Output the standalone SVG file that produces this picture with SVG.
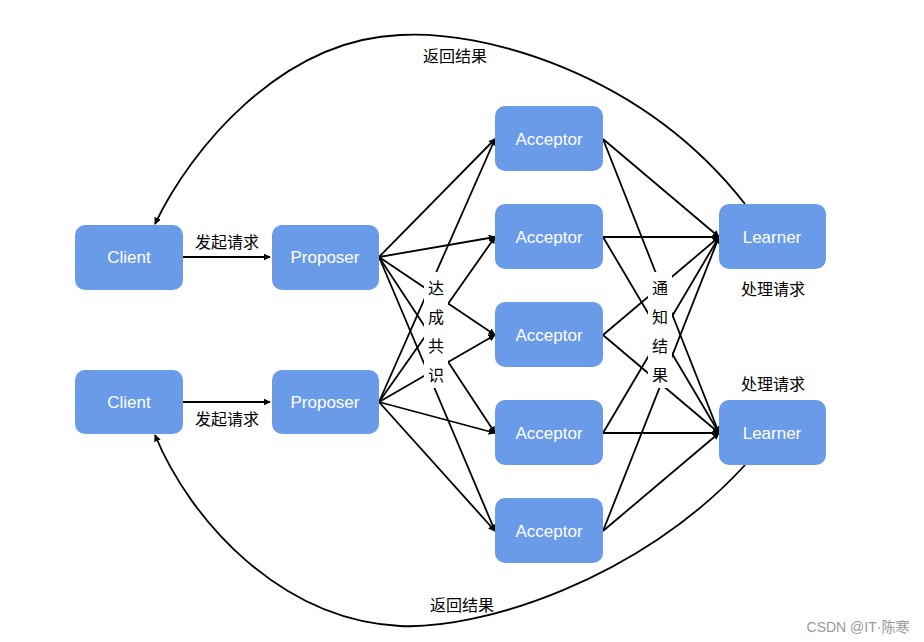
<svg xmlns="http://www.w3.org/2000/svg" width="924" height="642" viewBox="0 0 924 642">
<style>
.n{fill:#6a9be9}
.t{fill:#fff;font-family:"Liberation Sans","Noto Sans CJK SC",sans-serif;font-size:17px;text-anchor:middle;dominant-baseline:central}
.l{fill:#000;font-family:"Noto Sans CJK SC",sans-serif;font-size:16px;text-anchor:middle;dominant-baseline:central}
.c path{fill:none;stroke:#000;stroke-width:1.8;marker-end:url(#a)}
</style>
<defs><marker id="a" viewBox="0 0 10 10" refX="9" refY="5" markerWidth="7" markerHeight="7" orient="auto" markerUnits="userSpaceOnUse"><path d="M0,0L10,5L0,10z" fill="#000"/></marker></defs>
<rect width="924" height="642" fill="#fff"/>
<g class="c">
<path d="M183,257H270"/><path d="M183,402H270"/>
<path d="M379,257L495,139"/><path d="M379,257L495,237"/><path d="M379,257L495,335"/><path d="M379,257L495,433"/><path d="M379,257L495,531"/>
<path d="M379,402L495,139"/><path d="M379,402L495,237"/><path d="M379,402L495,335"/><path d="M379,402L495,433"/><path d="M379,402L495,531"/>
<path d="M603,139L719,237"/><path d="M603,237L719,237"/><path d="M603,335L719,237"/><path d="M603,433L719,237"/><path d="M603,531L719,237"/>
<path d="M603,139L719,433"/><path d="M603,237L719,433"/><path d="M603,335L719,433"/><path d="M603,433L719,433"/><path d="M603,531L719,433"/>
<path d="M745,204C640,70 480,30 400,35C280,40 190,150 155,224"/>
<path d="M745,465C640,580 480,630 400,626C280,620 190,520 155,435"/>
</g>
<g id="client1"><rect class="n" x="75" y="225" width="108" height="65" rx="10"/><text class="t" x="129" y="257">Client</text></g>
<g id="client2"><rect class="n" x="75" y="370" width="108" height="64" rx="10"/><text class="t" x="129" y="402">Client</text></g>
<g id="proposer1"><rect class="n" x="272" y="225" width="107" height="65" rx="10"/><text class="t" x="325" y="257">Proposer</text></g>
<g id="proposer2"><rect class="n" x="272" y="370" width="107" height="64" rx="10"/><text class="t" x="325" y="402">Proposer</text></g>
<g id="acceptor1"><rect class="n" x="495" y="106" width="108" height="65" rx="10"/><text class="t" x="549" y="139">Acceptor</text></g>
<g id="acceptor2"><rect class="n" x="495" y="204" width="108" height="65" rx="10"/><text class="t" x="549" y="237">Acceptor</text></g>
<g id="acceptor3"><rect class="n" x="495" y="302" width="108" height="65" rx="10"/><text class="t" x="549" y="335">Acceptor</text></g>
<g id="acceptor4"><rect class="n" x="495" y="400" width="108" height="65" rx="10"/><text class="t" x="549" y="433">Acceptor</text></g>
<g id="acceptor5"><rect class="n" x="495" y="498" width="108" height="65" rx="10"/><text class="t" x="549" y="531">Acceptor</text></g>
<g id="learner1"><rect class="n" x="719" y="204" width="107" height="65" rx="10"/><text class="t" x="772" y="237">Learner</text></g>
<g id="learner2"><rect class="n" x="719" y="400" width="107" height="65" rx="10"/><text class="t" x="772" y="433">Learner</text></g>
<g id="labels">
<text class="l" x="455" y="55">返回结果</text>
<text class="l" x="462" y="604">返回结果</text>
<text class="l" x="227" y="241" font-size="15">发起请求</text>
<text class="l" x="227" y="418" font-size="15">发起请求</text>
<text class="l" x="773" y="288">处理请求</text>
<text class="l" x="773" y="383">处理请求</text>
<rect x="424" y="272" width="24" height="116" fill="#fff"/>
<text class="l" x="436" y="287" font-size="18">达</text><text class="l" x="436" y="316" font-size="18">成</text><text class="l" x="436" y="345" font-size="18">共</text><text class="l" x="436" y="374" font-size="18">识</text>
<rect x="648" y="272" width="24" height="116" fill="#fff"/>
<text class="l" x="660" y="287" font-size="18">通</text><text class="l" x="660" y="316" font-size="18">知</text><text class="l" x="660" y="345" font-size="18">结</text><text class="l" x="660" y="374" font-size="18">果</text>
<text x="858" y="627" fill="#999" font-family="'Liberation Sans','Noto Sans CJK SC',sans-serif" font-size="14" text-anchor="middle" dominant-baseline="central">CSDN @IT·陈寒</text>
</g>
</svg>
